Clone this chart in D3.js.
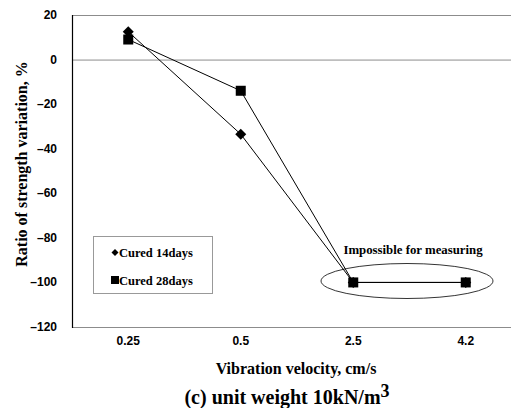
<!DOCTYPE html>
<html>
<head>
<meta charset="utf-8">
<script src="https://cdn.jsdelivr.net/npm/d3@7"></script>
<style>
body { margin: 0; background: #fff; }
svg { display: block; }
</style>
</head>
<body>
<svg id="chart"></svg>
<script>
// chart data
var categories = ["0.25", "0.5", "2.5", "4.2"];
var cured14 = [12.5, -33.5, -100, -100];
var cured28 = [9, -14, -100, -100];
var yTicks = [20, 0, -20, -40, -60, -80, -100, -120];
var seriesNames = ["Cured 14days", "Cured 28days"];

var width = 511, height = 408;
var plotLeft = 72, plotRight = 522, plotTop = 15, plotBottom = 327;

var svg = d3.select("#chart").attr("width", width).attr("height", height);

var x = d3.scalePoint().domain(categories).range([plotLeft, plotRight]).padding(0.5);
var y = d3.scaleLinear().domain([-120, 20]).range([plotBottom, plotTop]);

// rotated square marker
function diamondPath(r) {
    return "M0," + (-r) + "L" + r + ",0L0," + r + "L" + (-r) + ",0Z";
}

// grey horizontal lines at 20, 0, -120
[20, 0, -120].forEach(function (v) {
    svg.append("line")
        .attr("x1", plotLeft).attr("x2", plotRight)
        .attr("y1", y(v) + 0.5).attr("y2", y(v) + 0.5)
        .attr("stroke", "#8c8c8c").attr("stroke-width", 1);
});

// left axis
svg.append("line")
    .attr("x1", plotLeft + 0.5).attr("x2", plotLeft + 0.5)
    .attr("y1", plotTop).attr("y2", plotBottom + 1)
    .attr("stroke", "#000").attr("stroke-width", 1.2);

svg.selectAll(".ytick")
    .data(yTicks)
    .enter().append("text")
    .attr("class", "ytick")
    .attr("x", 57)
    .attr("y", function (d) { return y(d) + 4; })
    .attr("text-anchor", "end")
    .style("font-family", "Liberation Sans, Arial, sans-serif")
    .style("font-weight", "bold")
    .style("font-size", "12px")
    .text(function (d) { return d < 0 ? "\u2013" + (-d) : d; });

svg.selectAll(".xtick")
    .data(categories)
    .enter().append("text")
    .attr("class", "xtick")
    .attr("x", function (d) { return x(d); })
    .attr("y", 345)
    .attr("text-anchor", "middle")
    .style("font-family", "Liberation Sans, Arial, sans-serif")
    .style("font-weight", "bold")
    .style("font-size", "12px")
    .text(function (d) { return d; });

// axis titles
svg.append("text")
    .attr("transform", "translate(27,164) rotate(-90)")
    .attr("text-anchor", "middle")
    .style("font-family", "Liberation Serif, Times New Roman, serif")
    .style("font-weight", "bold")
    .style("font-size", "16px")
    .text("Ratio of strength variation, %");

svg.append("text")
    .attr("x", 296).attr("y", 374)
    .attr("text-anchor", "middle")
    .style("font-family", "Liberation Serif, Times New Roman, serif")
    .style("font-weight", "bold")
    .style("font-size", "16px")
    .text("Vibration velocity, cm/s");

var cap = svg.append("text")
    .attr("x", 287).attr("y", 404)
    .attr("text-anchor", "middle")
    .style("font-family", "Liberation Serif, Times New Roman, serif")
    .style("font-weight", "bold")
    .style("font-size", "20px");
cap.append("tspan").text("(c) unit weight 10kN/m");
cap.append("tspan").attr("dy", -7).style("font-size", "18px").text("3");

// series lines
var line = d3.line()
    .x(function (d, i) { return x(categories[i]); })
    .y(function (d) { return y(d); });

[cured14, cured28].forEach(function (s) {
    svg.append("path")
        .datum(s)
        .attr("d", line)
        .attr("fill", "none")
        .attr("stroke", "#000")
        .attr("stroke-width", 1);
});

svg.selectAll(".m14")
    .data(cured14)
    .enter().append("path")
    .attr("class", "m14")
    .attr("d", diamondPath(5.5))
    .attr("transform", function (d, i) { return "translate(" + x(categories[i]) + "," + y(d) + ")"; })
    .attr("fill", "#000");

svg.selectAll(".m28")
    .data(cured28)
    .enter().append("rect")
    .attr("class", "m28")
    .attr("x", function (d, i) { return x(categories[i]) - 5; })
    .attr("y", function (d) { return y(d) - 5; })
    .attr("width", 10).attr("height", 10)
    .attr("fill", "#000");

// ellipse annotation
svg.append("ellipse")
    .attr("cx", 407).attr("cy", 281)
    .attr("rx", 86).attr("ry", 17.5)
    .attr("fill", "none")
    .attr("stroke", "#000")
    .attr("stroke-width", 0.8);

svg.append("text")
    .attr("x", 413).attr("y", 254)
    .attr("text-anchor", "middle")
    .style("font-family", "Liberation Serif, Times New Roman, serif")
    .style("font-weight", "bold")
    .style("font-size", "12.8px")
    .text("Impossible for measuring");

// legend
svg.append("rect")
    .attr("x", 93.5).attr("y", 236.5)
    .attr("width", 119).attr("height", 57)
    .attr("fill", "#fff")
    .attr("stroke", "#999")
    .attr("stroke-width", 1);

svg.append("path")
    .attr("d", diamondPath(3.5))
    .attr("transform", "translate(115,252.5)")
    .attr("fill", "#000");
svg.append("rect")
    .attr("x", 111).attr("y", 276)
    .attr("width", 8).attr("height", 8)
    .attr("fill", "#000");

svg.selectAll(".leg")
    .data(seriesNames)
    .enter().append("text")
    .attr("class", "leg")
    .attr("x", 119)
    .attr("y", function (d, i) { return 257 + i * 27.5; })
    .style("font-family", "Liberation Serif, Times New Roman, serif")
    .style("font-weight", "bold")
    .style("font-size", "12.5px")
    .text(function (d) { return d; });
</script>
</body>
</html>
